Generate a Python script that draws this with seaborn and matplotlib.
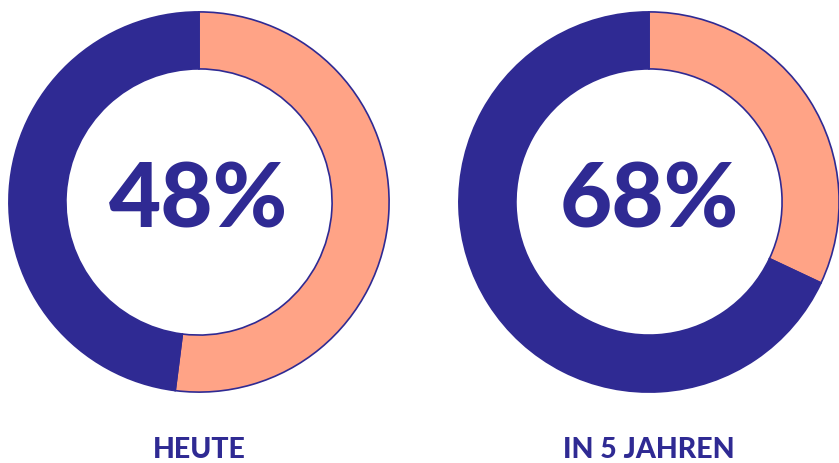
import matplotlib
matplotlib.use("Agg")
import matplotlib.pyplot as plt
import seaborn as sns

# Anteil in Prozent (dunkelblau) je Zeitpunkt
labels = ["HEUTE", "IN 5 JAHREN"]
shares = [48, 68]

navy = "#2F2A93"
salmon = "#FFA386"

sns.set_theme(style="white")
plt.rcParams["font.family"] = ["Lato", "DejaVu Sans"]

fig = plt.figure(figsize=(8.39, 4.63), dpi=100)
W, H = 839, 463
R = 192
centers = [(199, 202), (649, 202)]

for (cx, cy), label, share in zip(centers, labels, shares):
    ax = fig.add_axes([(cx - R) / W, (H - cy - R) / H, 2 * R / W, 2 * R / H])
    wedges, _ = ax.pie(
        [100 - share, share],
        colors=[salmon, navy],
        startangle=90,
        counterclock=False,
        radius=1,
        wedgeprops=dict(width=0.3, edgecolor=navy, linewidth=1.2),
    )
    ax.set_xlim(-1.01, 1.01)
    ax.set_ylim(-1.01, 1.01)
    ax.set_aspect("equal")
    ax.axis("off")
    ax.text(0, 0.0, f"{share}%", ha="center", va="center",
            fontsize=65, fontweight="black", color=navy)
    fig.text(cx / W, 1 - 450 / H, label, ha="center", va="center",
             fontsize=20.5, fontweight="black", color=navy)

fig.savefig("out.png", dpi=100)
